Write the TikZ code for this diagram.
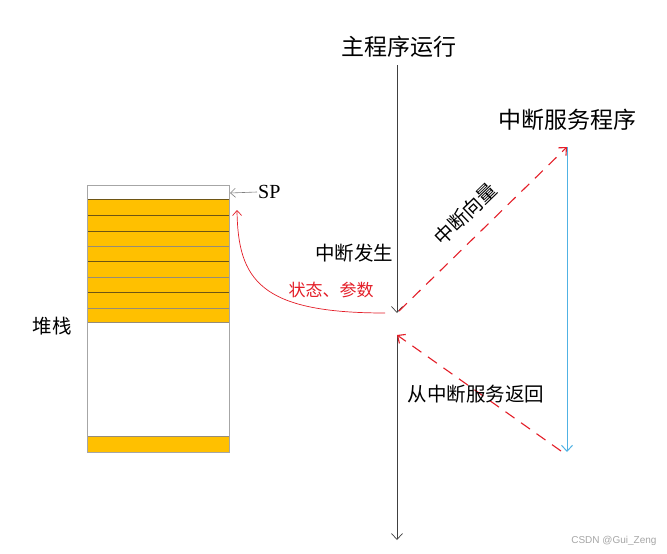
\documentclass[tikz,border=0pt]{standalone}
\usepackage{fontspec}
\setmainfont{Liberation Serif}
\newfontfamily\cjk{Noto Sans CJK SC}
\newfontfamily\wmfont{Liberation Sans}
\usetikzlibrary{arrows.meta}
\definecolor{stackorange}{RGB}{255,192,0}
\definecolor{bandline}{RGB}{110,85,20}
\definecolor{bandgray}{RGB}{150,140,120}
\definecolor{irqred}{RGB}{228,30,40}
\definecolor{svblue}{RGB}{80,178,228}
\tikzset{
  bigtxt/.style={font=\cjk\fontsize{23}{23}\selectfont, inner sep=1pt},
  midtxt/.style={font=\cjk\fontsize{19.5}{19.5}\selectfont, inner sep=1pt},
  redtxt/.style={font=\cjk\fontsize{17}{17}\selectfont, text=irqred, inner sep=1pt},
  mainline/.style={draw=black!75, line width=0.7pt},
  barb/.style={-{Straight Barb[length=6pt,width=11pt]}},
  reddash/.style={draw=irqred, line width=1.1pt, dash pattern=on 11pt off 8pt},
  svline/.style={draw=svblue, line width=1pt},
}
\begin{document}
\begin{tikzpicture}[x=1pt,y=-1pt]
\useasboundingbox[fill=white] (0,0) rectangle (667,554);
% stack
\fill[stackorange] (87,199) rectangle (229,322);
\fill[stackorange] (87,436) rectangle (229,452);
\foreach \yy/\cc in {199/bandline,215/bandline,231/bandline,246/bandgray,261/bandline,277/bandgray,292/bandline,308/bandgray,322/bandgray,436/bandgray,452/bandgray}
  \draw[\cc, line width=0.9pt] (87,\yy) -- (229,\yy);
\draw[black!35, line width=0.8pt] (87,185) rectangle (229,452);
\coordinate (sptip) at (230,193);
\coordinate (stacktop) at (237,210);
\node[font=\fontsize{20}{20}\selectfont, anchor=west, inner sep=1pt] (sp) at (257,192) {SP};
\draw[black!50, line width=0.6pt, -{Straight Barb[length=5pt,width=9pt]}] (sp.west) -- (sptip);
\node[midtxt] (stack) at (52,326) {堆栈};
% main program line
\node[bigtxt] (main) at (399,47) {主程序运行};
\coordinate (hit) at (397,313);
\coordinate (ret) at (397,335);
\coordinate (bottom) at (397,540);
\coordinate (mtop) at (397,65);
\draw[mainline, barb] (mtop) -- (hit);
\draw[mainline, barb] (ret) -- (bottom);
\node[midtxt] (occur) at (354,253) {中断发生};
% service routine
\node[bigtxt] (svc) at (567,120) {中断服务程序};
\coordinate (svtop) at (567,147);
\coordinate (svbot) at (567,452);
\draw[svline, barb] (svtop) -- (svbot);
% interrupt vector
\coordinate (vstart) at (399,311);
\draw[reddash, barb] (vstart) -- (svtop);
\node[midtxt, rotate=44] (vec) at (465,214) {中断向量};
% return
\coordinate (rstart) at (561,451);
\draw[reddash, barb] (rstart) -- (ret);
\node[midtxt] (back) at (476,394) {从中断服务返回};
% state / params
\coordinate (cstart) at (385,313);
\draw[irqred, line width=0.7pt, -{Straight Barb[length=5pt,width=9pt]}] (cstart) .. controls (260,313) and (238,280) .. (stacktop);
\node[redtxt] (state) at (331,290) {状态、参数};
% watermark
\node[font=\wmfont\fontsize{10}{10}\selectfont, text=black!35, anchor=east] (wm) at (660,541) {CSDN @Gui\_Zeng};
\end{tikzpicture}
\end{document}
